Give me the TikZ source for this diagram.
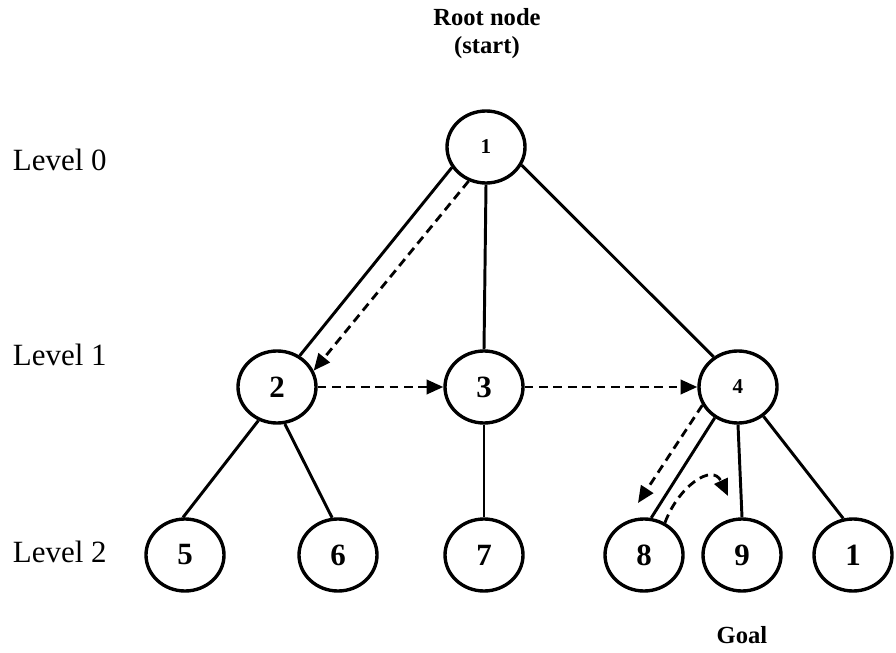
\documentclass[tikz,border=0pt]{standalone}
\usepackage{fontspec}
\setmainfont{Liberation Serif}
\usetikzlibrary{arrows.meta,shapes.geometric}

\begin{document}
\begin{tikzpicture}[
		vertex/.style = {draw, ellipse, line width=2.4pt, minimum width=1.95cm, minimum height=1.8cm, inner sep=0pt, font=\fontsize{22}{24}\selectfont\bfseries},
		smalldigit/.style = {font=\fontsize{15}{16}\selectfont\bfseries},
		edge/.style = {line width=2.1pt},
		visit/.style = {line width=2pt, dash pattern=on 0.22cm off 0.14cm, -{Triangle[length=0.42cm, width=0.36cm]}},
		levellabel/.style = {anchor=west, font=\fontsize{22}{24}\selectfont},
		note/.style = {align=center, font=\fontsize{17.5}{20}\selectfont\bfseries}
	]
		\useasboundingbox (0,0) rectangle (22.4,16.3);

		% level labels
		\foreach \name / \y / \lvl in {lev0/12.3/0, lev1/7.42/1, lev2/2.5/2}
			\node[levellabel] (\name) at (0.2,\y) {Level \lvl};

		% tree nodes
		\node[vertex, smalldigit] (n1) at (12.15,12.625) {1};
		\node[vertex, smalldigit] (n4) at (18.45,6.625) {4};
		\foreach \name / \x / \y / \num in {%
			n2/6.925/6.625/2, n3/12.1/6.625/3,
			n5/4.625/2.425/5, n6/8.45/2.425/6, n7/12.1/2.425/7,
			n8/16.1/2.425/8, n9/18.55/2.425/9, n10/21.325/2.425/1%
		}
			\node[vertex] (\name) at (\x,\y) {\num};

		% root and goal notes
		\node[note] (root) at (12.175,15.45) {Root node\\(start)};
		\node[note] (goal) at (18.55,0.42) {Goal};

		% tree edges
		\foreach \from / \to in {%
			n1.211/n2.54, n1.south/n3.north, n1.333/n4.129,
			n2.241/n5.93, n2.282/n6.99, n3.south/n7.north,
			n4.233/n8.79, n4.south/n9.north, n4.311/n10.105%
		}
			\draw[edge] (\from) -- (\to);

		% search order
		\coordinate (tip8) at (15.95,3.725);
		\coordinate (tip9) at (18.2,3.9);
		\draw[visit] (n1.243) -- (n2.24);
		\draw[visit] (n2.east) -- (n3.west);
		\draw[visit] (n3.east) -- (n4.west);
		\draw[visit] (n4.207) -- (tip8);
		\draw[visit] (n8.57) to[out=70, in=115, looseness=1.4] (tip9);

	\end{tikzpicture}
\end{document}
